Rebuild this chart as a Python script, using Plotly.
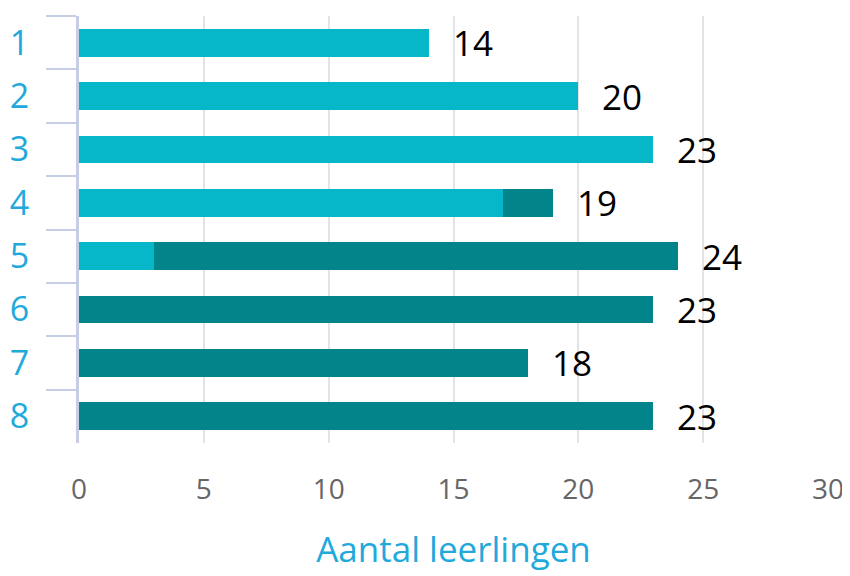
import plotly.graph_objects as go

# data
klassen = ["1", "2", "3", "4", "5", "6", "7", "8"]
licht = [14, 20, 23, 17, 3, 0, 0, 0]
donker = [0, 0, 0, 2, 21, 23, 18, 23]
totaal = [a + b for a, b in zip(licht, donker)]

x_ticks = [0, 5, 10, 15, 20, 25, 30]

FONT = "Open Sans"

fig = go.Figure()
fig.add_trace(go.Bar(y=klassen, x=licht, orientation="h", marker_color="#06b7c9",
                     marker_line_width=0, width=0.52, name="licht"))
fig.add_trace(go.Bar(y=klassen, x=donker, orientation="h", marker_color="#03838a",
                     marker_line_width=0, width=0.52, name="donker"))

# value labels after each bar (y as category index, numeric-looking names get cast)
for i, t in enumerate(totaal):
    fig.add_annotation(x=t, y=i, text=str(t), showarrow=False, xanchor="left",
                       xshift=22, font=dict(family=FONT, size=35, color="black"))

# page body has an 8px margin, so the margins are set a bit off
fig.update_layout(
    barmode="stack",
    showlegend=False,
    width=850, height=576,
    margin=dict(l=71, r=30, t=8, b=141),
    plot_bgcolor="white",
    paper_bgcolor="white",
    font=dict(family=FONT),
)
fig.update_xaxes(
    range=[0, 30], tickvals=x_ticks, showgrid=True, gridcolor="#e3e3e6", gridwidth=2,
    zeroline=False, showline=False, automargin=False,
    tickfont=dict(size=28, color="#666666"), ticklabelstandoff=27,
    title=dict(text="Aantal leerlingen", font=dict(size=35, color="#22a9dc"), standoff=31),
)
fig.update_yaxes(
    autorange="reversed", type="category", automargin=False,
    showline=True, linecolor="#c6cde5", linewidth=3,
    ticks="outside", tickson="boundaries", ticklen=30, tickwidth=2, tickcolor="#c6cde5",
    tickfont=dict(size=34, color="#22a9dc"), ticklabelstandoff=40,
    showgrid=False,
)

fig.write_html("out.html")
